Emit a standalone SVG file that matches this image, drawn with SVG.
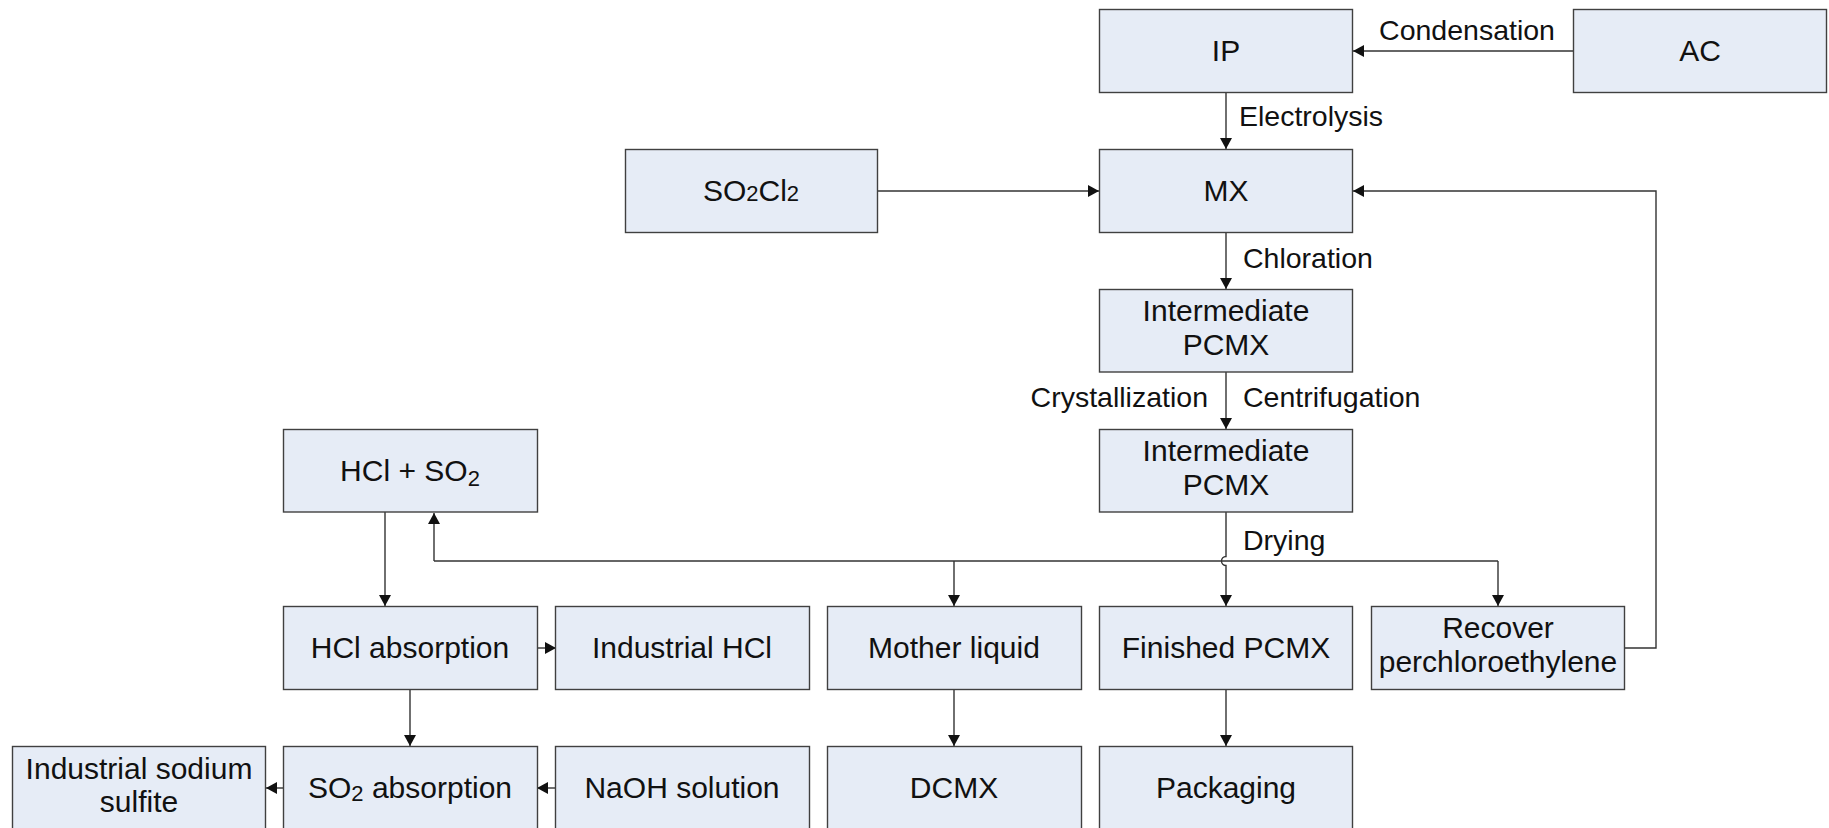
<svg xmlns="http://www.w3.org/2000/svg" width="1829" height="828" viewBox="0 0 1829 828">
<style>
.box{fill:#e6ecf6;stroke:#404040;stroke-width:1.4}
.t{font-family:"Liberation Sans",Arial,sans-serif;font-size:30px;fill:#111;text-anchor:middle}
.l{font-family:"Liberation Sans",Arial,sans-serif;font-size:28.5px;fill:#111}
.c{fill:none;stroke:#333;stroke-width:1.4}
.ca{fill:none;stroke:#333;stroke-width:1.4;marker-end:url(#ah)}
</style>
<defs>
<marker id="ah" viewBox="0 0 11 12" refX="11" refY="6" markerWidth="11" markerHeight="12" markerUnits="userSpaceOnUse" orient="auto">
<path d="M0,0 L11,6 L0,12 z" fill="#111"/>
</marker>
</defs>
<rect width="1829" height="828" fill="#fff"/>
<g id="connectors">
<path class="ca" d="M1573 51 H1353"/>
<path class="ca" d="M1226 93 V149"/>
<path class="ca" d="M878 191 H1099"/>
<path class="ca" d="M1625 648 H1656 V191 H1353"/>
<path class="ca" d="M1226 233 V289"/>
<path class="ca" d="M1226 372 V429"/>
<path class="ca" d="M1226 512 V556.5 A4.5 4.5 0 0 0 1226 565.5 V606"/>
<path class="c" d="M434 561 H1498"/>
<path class="ca" d="M434 561 V513"/>
<path class="ca" d="M954 561 V606"/>
<path class="ca" d="M1498 561 V606"/>
<path class="ca" d="M385 512 V606"/>
<path class="ca" d="M537 648 H556"/>
<path class="ca" d="M410 690 V746"/>
<path class="ca" d="M556 788 H537"/>
<path class="ca" d="M284 788 H266"/>
<path class="ca" d="M954 690 V746"/>
<path class="ca" d="M1226 690 V746"/>
<text class="l" x="1467" y="40" text-anchor="middle">Condensation</text>
<text class="l" x="1239" y="126">Electrolysis</text>
<text class="l" x="1243" y="268">Chloration</text>
<text class="l" x="1208" y="407" text-anchor="end">Crystallization</text>
<text class="l" x="1243" y="407">Centrifugation</text>
<text class="l" x="1243" y="550">Drying</text>
</g>
<g id="n-ip"><rect class="box" x="1099.5" y="9.5" width="253" height="83"/><text class="t" x="1226" y="61">IP</text></g>
<g id="n-ac"><rect class="box" x="1573.5" y="9.5" width="253" height="83"/><text class="t" x="1700" y="61">AC</text></g>
<g id="n-so2cl2"><rect class="box" x="625.5" y="149.5" width="252" height="83"/><text class="t" x="751" y="201">SO<tspan font-size="22">2</tspan>Cl<tspan font-size="22">2</tspan></text></g>
<g id="n-mx"><rect class="box" x="1099.5" y="149.5" width="253" height="83"/><text class="t" x="1226" y="201">MX</text></g>
<g id="n-pcmx1"><rect class="box" x="1099.5" y="289.5" width="253" height="82.5"/><text class="t" x="1226" y="321">Intermediate</text><text class="t" x="1226" y="355">PCMX</text></g>
<g id="n-pcmx2"><rect class="box" x="1099.5" y="429.5" width="253" height="82.5"/><text class="t" x="1226" y="461">Intermediate</text><text class="t" x="1226" y="495">PCMX</text></g>
<g id="n-hclso2"><rect class="box" x="283.5" y="429.5" width="254" height="82.5"/><text class="t" x="410" y="481">HCl + SO<tspan font-size="22" dy="5">2</tspan></text></g>
<g id="n-hclabs"><rect class="box" x="283.5" y="606.5" width="254" height="83"/><text class="t" x="410" y="658">HCl absorption</text></g>
<g id="n-indhcl"><rect class="box" x="555.5" y="606.5" width="254" height="83"/><text class="t" x="682" y="658">Industrial HCl</text></g>
<g id="n-mother"><rect class="box" x="827.5" y="606.5" width="254" height="83"/><text class="t" x="954" y="658">Mother liquid</text></g>
<g id="n-finished"><rect class="box" x="1099.5" y="606.5" width="253" height="83"/><text class="t" x="1226" y="658">Finished PCMX</text></g>
<g id="n-recover"><rect class="box" x="1371.5" y="606.5" width="253" height="83"/><text class="t" x="1498" y="638">Recover</text><text class="t" x="1498" y="672">perchloroethylene</text></g>
<g id="n-sulfite"><rect class="box" x="12.5" y="746.5" width="253" height="84"/><text class="t" x="139" y="779">Industrial sodium</text><text class="t" x="139" y="812">sulfite</text></g>
<g id="n-so2abs"><rect class="box" x="283.5" y="746.5" width="254" height="84"/><text class="t" x="410" y="798">SO<tspan font-size="22" dy="3">2</tspan><tspan dy="-3"> absorption</tspan></text></g>
<g id="n-naoh"><rect class="box" x="555.5" y="746.5" width="254" height="84"/><text class="t" x="682" y="798">NaOH solution</text></g>
<g id="n-dcmx"><rect class="box" x="827.5" y="746.5" width="254" height="84"/><text class="t" x="954" y="798">DCMX</text></g>
<g id="n-packaging"><rect class="box" x="1099.5" y="746.5" width="253" height="84"/><text class="t" x="1226" y="798">Packaging</text></g>
</svg>
